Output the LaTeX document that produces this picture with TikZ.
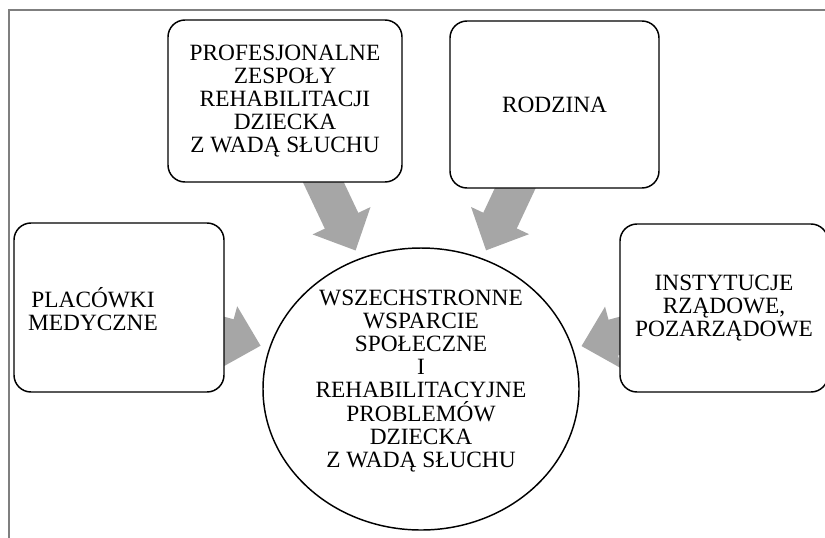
\documentclass[tikz,border=0pt]{standalone}
\usepackage{fontspec}
\setmainfont{Liberation Serif}
\usetikzlibrary{arrows.meta,shapes.geometric,backgrounds}
\definecolor{arrowgrey}{HTML}{A6A6A6}
\definecolor{framegrey}{HTML}{7F7F7F}

\begin{document}
\begin{tikzpicture}[x=0.75pt,y=-0.75pt]
\tikzset{font=\fontsize{17.5pt}{17.3pt}\selectfont,
	align=center}
\tikzset{box/.style = {shape=rectangle,draw,fill=white,rounded corners=12.75pt,line width=1.1pt}}
\tikzset{oval/.style = {shape=ellipse,draw,fill=white,line width=1.1pt,inner sep=0pt}}
\tikzset{fat/.style = {draw=arrowgrey,line width=27.75pt,-{Triangle[width=46.5pt,length=24.75pt]},shorten >=6.5pt}}
\useasboundingbox (0,0) rectangle (825,537);
% frame
\draw[framegrey,line width=1pt] (9,545) -- (9,10) -- (835,10);
% boxes
\node[box,minimum width=175.5pt,minimum height=121.5pt] (prof) at (285,101)
	{PROFESJONALNE\\ZESPOŁY\\REHABILITACJI\\DZIECKA\\Z WADĄ SŁUCHU};
\node[box,minimum width=156.75pt,minimum height=125.25pt] (rodz) at (554.5,104.5) {RODZINA};
\node[box,minimum width=157.5pt,minimum height=126.75pt] (plac) at (119,307.5) {};
\node (plactext) at (93,309) {PLACÓWKI\\MEDYCZNE};
\node[box,minimum width=156pt,minimum height=126pt] (inst) at (724,308)
	{INSTYTUCJE\\RZĄDOWE,\\POZARZĄDOWE};
\node[oval,minimum width=237pt,minimum height=211.5pt] (centre) at (421,389) {};
\node (centretext) at (421,381)
	{WSZECHSTRONNE\\WSPARCIE\\SPOŁECZNE\\I\\REHABILITACYJNE\\PROBLEMÓW\\DZIECKA\\Z WADĄ SŁUCHU};

% arrows
\begin{scope}[on background layer]
\draw[fat] (prof.center) -- (centre);
\draw[fat] (rodz.center) -- (centre);
\draw[fat] (plac.center) -- (centre);
\draw[fat] (inst.center) -- (centre);
\end{scope}
\end{tikzpicture}
\end{document}
